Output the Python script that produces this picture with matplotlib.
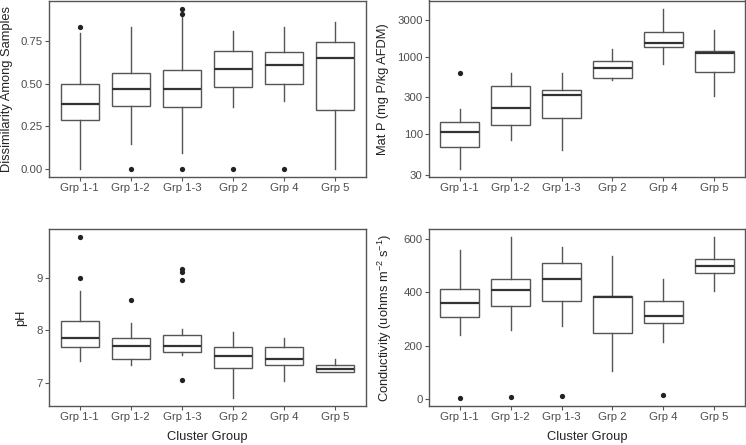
import numpy as np
import matplotlib
matplotlib.use('Agg')
import matplotlib.pyplot as plt

plt.rcParams['font.family'] = ['Liberation Sans', 'DejaVu Sans']
plt.rcParams['mathtext.default'] = 'regular'

groups = ['Grp 1-1', 'Grp 1-2', 'Grp 1-3', 'Grp 2', 'Grp 4', 'Grp 5']

# Dissimilarity among samples
diss_lo = [0.0, 0.144, 0.095, 0.362, 0.399, 0.0]
diss_q1 = [0.288, 0.372, 0.364, 0.479, 0.50, 0.349]
diss_med = [0.384, 0.471, 0.471, 0.588, 0.610, 0.653]
diss_q3 = [0.50, 0.563, 0.581, 0.692, 0.686, 0.744]
diss_hi = [0.797, 0.832, 0.898, 0.812, 0.836, 0.861]
diss_out = [[0.832], [0.0], [0.943, 0.91, 0.0], [0.0], [0.0], []]

# Mat P (log scale)
matp_lo = [35.4, 83.7, 62.2, 506, 820, 315]
matp_q1 = [68.7, 131, 162, 537, 1331, 635]
matp_med = [107, 216, 321, 715, 1514, 1138]
matp_q3 = [144, 423, 376, 897, 2118, 1208]
matp_hi = [212, 616, 616, 1268, 4234, 2228]
matp_out = [[616], [], [], [], [], []]

# pH
ph_lo = [7.42, 7.35, 7.53, 6.72, 7.04, 7.22]
ph_q1 = [7.68, 7.46, 7.59, 7.29, 7.35, 7.22]
ph_med = [7.85, 7.71, 7.70, 7.51, 7.46, 7.27]
ph_q3 = [8.17, 7.85, 7.92, 7.68, 7.68, 7.35]
ph_hi = [8.74, 8.13, 8.03, 7.97, 7.85, 7.46]
ph_out = [[9.766, 9.0], [8.58], [9.17, 9.11, 8.96, 7.06], [], [], []]

# Conductivity
cond_lo = [241, 258, 272, 105, 212, 405]
cond_q1 = [306, 348, 367, 247, 284, 471]
cond_med = [360, 407, 449, 382, 311, 497]
cond_q3 = [413, 450, 510, 384, 366, 523]
cond_hi = [558, 606, 567, 536, 448, 605]
cond_out = [[4], [7], [10], [], [15], []]

EDGE = '#555555'
TXT = '#4D4D4D'


# Build bxp stats and draw one ggplot-like boxplot panel
def draw_panel(ax, lo, q1, med, q3, hi, out, log=False):
    stats = []
    for i in range(len(groups)):
        stats.append({'med': med[i], 'q1': q1[i], 'q3': q3[i],
                      'whislo': lo[i], 'whishi': hi[i], 'fliers': out[i]})
    ax.bxp(stats, positions=np.arange(1, 7), widths=0.75, showcaps=False,
           patch_artist=True,
           boxprops=dict(facecolor='white', edgecolor=EDGE, linewidth=1.0),
           medianprops=dict(color='#333333', linewidth=1.6),
           whiskerprops=dict(color=EDGE, linewidth=1.0),
           flierprops=dict(marker='o', markerfacecolor='#222222',
                           markeredgewidth=0, markersize=3.8))
    vals = lo + hi + [v for o in out for v in o]
    if log:
        ax.set_yscale('log')
        a, b = np.log10(min(vals)), np.log10(max(vals))
        pad = (b - a) * 0.05
        ax.set_ylim(10 ** (a - pad), 10 ** (b + pad))
    else:
        a, b = min(vals), max(vals)
        pad = (b - a) * 0.05
        ax.set_ylim(a - pad, b + pad)
    ax.set_xlim(0.4, 6.6)
    ax.set_xticks(np.arange(1, 7))
    ax.set_xticklabels(groups)
    for s in ax.spines.values():
        s.set_color(EDGE)
        s.set_linewidth(1.0)
    ax.tick_params(axis='both', colors=EDGE, labelcolor=TXT, labelsize=8.2,
                   length=3, width=0.8, pad=1.5)
    ax.minorticks_off()


fig = plt.figure(figsize=(7.46, 4.45), dpi=100)
W, H = 746.0, 445.0
ax1 = fig.add_axes([49 / W, 1 - 177 / H, 317 / W, 176.5 / H])
ax2 = fig.add_axes([429 / W, 1 - 177 / H, 316 / W, 176.5 / H])
ax3 = fig.add_axes([49 / W, 1 - 406 / H, 317 / W, 177 / H])
ax4 = fig.add_axes([429 / W, 1 - 406 / H, 316 / W, 177 / H])

draw_panel(ax1, diss_lo, diss_q1, diss_med, diss_q3, diss_hi, diss_out)
ax1.set_yticks([0, 0.25, 0.5, 0.75])
ax1.set_yticklabels(['0.00', '0.25', '0.50', '0.75'])
ax1.set_ylabel('Dissimilarity Among Samples', fontsize=9.3, color='#222222')
ax1.yaxis.set_label_coords(-0.113, 0.5)

draw_panel(ax2, matp_lo, matp_q1, matp_med, matp_q3, matp_hi, matp_out, log=True)
ax2.set_yticks([30, 100, 300, 1000, 3000])
ax2.set_yticklabels(['30', '100', '300', '1000', '3000'])
ax2.set_ylabel('Mat P (mg P/kg AFDM)', fontsize=9.3, color='#222222')
ax2.yaxis.set_label_coords(-0.127, 0.5)

draw_panel(ax3, ph_lo, ph_q1, ph_med, ph_q3, ph_hi, ph_out)
ax3.set_yticks([7, 8, 9])
ax3.set_ylabel('pH', fontsize=9.3, color='#222222')
ax3.yaxis.set_label_coords(-0.069, 0.5)
ax3.set_xlabel('Cluster Group', fontsize=9.3, color='#222222', labelpad=6)

draw_panel(ax4, cond_lo, cond_q1, cond_med, cond_q3, cond_hi, cond_out)
ax4.set_yticks([0, 200, 400, 600])
ax4.set_ylabel('Conductivity (uohms m$^{-2}$ s$^{-1}$)', fontsize=9.3, color='#222222')
ax4.yaxis.set_label_coords(-0.110, 0.5)
ax4.set_xlabel('Cluster Group', fontsize=9.3, color='#222222', labelpad=6)

fig.savefig('out.png', dpi=100)
